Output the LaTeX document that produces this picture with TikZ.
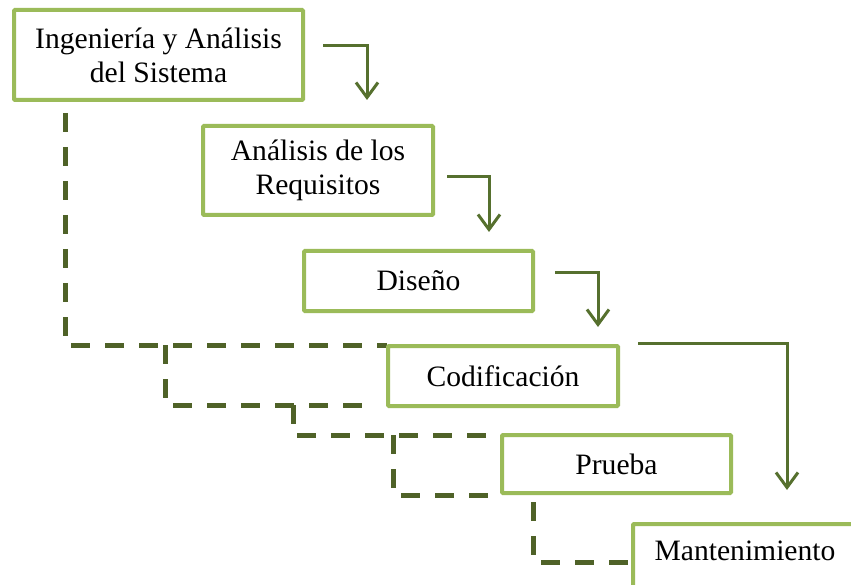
\documentclass[tikz,border=0pt]{standalone}
\usepackage{fontspec}
\setmainfont{Liberation Serif}
\usetikzlibrary{arrows.meta}
\definecolor{boxgreen}{HTML}{9BBB59}
\definecolor{dkgreen}{HTML}{4F6228}
\definecolor{arrgreen}{HTML}{56702E}
\begin{document}
\begin{tikzpicture}[x=1pt,y=-1pt,
  stagebox/.style={draw=boxgreen, line width=4pt, fill=white, rounded corners=1pt,
    align=center, inner sep=0pt, font=\fontsize{29.6}{34}\selectfont},
  stagetext/.style={inner sep=0pt, font=\fontsize{29.6}{34}\selectfont},
  arr/.style={draw=arrgreen, line width=3pt, -{Straight Barb[length=15pt,width=22pt,line width=3pt]}},
  back/.style={draw=dkgreen, line width=5pt, dash pattern=on 19pt off 15pt, line join=miter}]
\useasboundingbox (0,0) rectangle (851,585);
\clip (0,0) rectangle (851,585);
% dashed return lines
\coordinate (d1a) at (65,113);  \coordinate (d1b) at (65,345);  \coordinate (d1c) at (387,345);
\coordinate (d2a) at (165,345); \coordinate (d2b) at (165,405); \coordinate (d2c) at (363,405);
\coordinate (d3a) at (293,405); \coordinate (d3b) at (293,435); \coordinate (d3c) at (487,435);
\coordinate (d4a) at (393,435); \coordinate (d4b) at (393,495); \coordinate (d4c) at (500,495);
\coordinate (d5a) at (533,502); \coordinate (d5b) at (533,562); \coordinate (d5c) at (631,562);
\draw[back] (d1a) -- (d1b) -- (d1c);
\draw[back] (d2a) -- (d2b) -- (d2c);
\draw[back] (d3a) -- (d3b) -- (d3c);
\draw[back] (d4a) -- (d4b) -- (d4c);
\draw[back] (d5a) -- (d5b) -- (d5c);
% boxes
\node[stagebox, minimum width=289pt, minimum height=90pt] (b1) at (158.5,55) {Ingeniería y Análisis\\del Sistema};
\node[stagebox, minimum width=230pt, minimum height=89pt] (b2) at (318,170.5) {Análisis de los\\Requisitos};
\node[stagebox, minimum width=229pt, minimum height=60pt] (b3) at (418.5,281) {Diseño};
\node[stagebox, minimum width=230pt, minimum height=60pt] (b4) at (503,376) {Codificación};
\node[stagebox, minimum width=229pt, minimum height=58pt] (b5) at (616.5,464) {Prueba};
\node[stagebox, minimum width=266pt, minimum height=94pt] (b6) at (766,571) {};
\node[stagetext] (t6) at (745,551) {Mantenimiento};
% forward arrows
\coordinate (a1s) at (323,46);  \coordinate (a1e) at (367,100);
\coordinate (a2s) at (447,177); \coordinate (a2e) at (489,232);
\coordinate (a3s) at (555,273); \coordinate (a3e) at (598,327);
\coordinate (a4s) at (638,343); \coordinate (a4e) at (787,490);
\draw[arr] (a1s) -| (a1e);
\draw[arr] (a2s) -| (a2e);
\draw[arr] (a3s) -| (a3e);
\draw[arr] (a4s) -| (a4e);
\end{tikzpicture}
\end{document}
